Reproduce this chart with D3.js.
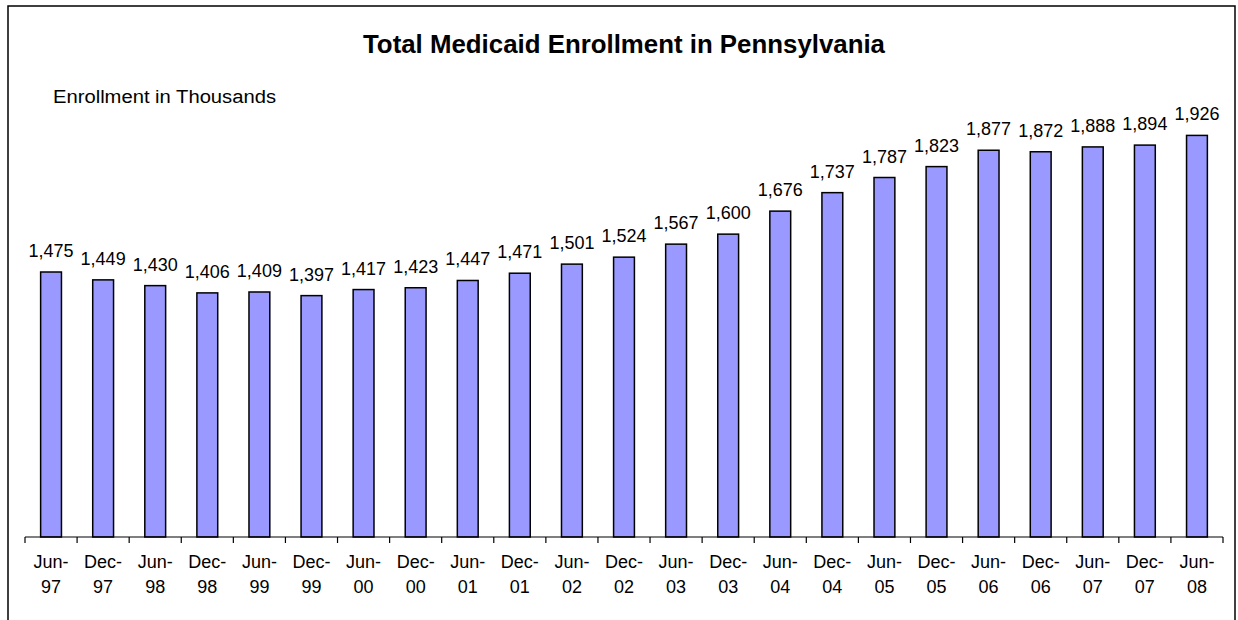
<!DOCTYPE html>
<html>
<head>
<meta charset="utf-8">
<script src="https://cdn.jsdelivr.net/npm/d3@7"></script>
<style>
  html, body { margin: 0; padding: 0; background: #fff; }
  svg { display: block; }
  text { font-family: "Liberation Sans", Arial, sans-serif; fill: #000; }
</style>
</head>
<body>
<svg id="chart" width="1238" height="620"></svg>
<script>
const categories = ["Jun-97","Dec-97","Jun-98","Dec-98","Jun-99","Dec-99","Jun-00","Dec-00","Jun-01","Dec-01","Jun-02","Dec-02","Jun-03","Dec-03","Jun-04","Dec-04","Jun-05","Dec-05","Jun-06","Dec-06","Jun-07","Dec-07","Jun-08"];
const enrollment = [1475,1449,1430,1406,1409,1397,1417,1423,1447,1471,1501,1524,1567,1600,1676,1737,1787,1823,1877,1872,1888,1894,1926];
const titleText = "Total Medicaid Enrollment in Pennsylvania";
const subtitleText = "Enrollment in Thousands";
const yDomain = [600, 2000];

const svg = d3.select("#chart");

// outer frame
svg.append("rect")
  .attr("x", 8).attr("y", 6)
  .attr("width", 1227).attr("height", 640)
  .attr("fill", "none").attr("stroke", "#000").attr("stroke-width", 1.5);

const x = d3.scaleBand()
  .domain(categories)
  .range([25, 1223])
  .paddingInner(0.6)
  .paddingOuter(0.3);

const y = d3.scaleLinear().domain(yDomain).range([537, 113]);

// title and subtitle
svg.append("text")
  .attr("x", 624).attr("y", 53)
  .attr("text-anchor", "middle")
  .attr("font-size", 26).attr("font-weight", "bold")
  .attr("textLength", 522).attr("lengthAdjust", "spacingAndGlyphs")
  .text(titleText);

svg.append("text")
  .attr("x", 53).attr("y", 103)
  .attr("font-size", 18)
  .attr("textLength", 223).attr("lengthAdjust", "spacingAndGlyphs")
  .text(subtitleText);

// bars
svg.append("g").selectAll("rect")
  .data(enrollment)
  .join("rect")
  .attr("x", (d, i) => x(categories[i]))
  .attr("y", d => y(d))
  .attr("width", x.bandwidth())
  .attr("height", d => y(yDomain[0]) - y(d))
  .attr("fill", "#9999FF")
  .attr("stroke", "#000")
  .attr("stroke-width", 1.5);

// value labels
const fmt = d3.format(",");
svg.append("g").selectAll("text")
  .data(enrollment)
  .join("text")
  .attr("x", (d, i) => x(categories[i]) + x.bandwidth() / 2)
  .attr("y", d => y(d) - 15)
  .attr("text-anchor", "middle")
  .attr("font-size", 18)
  .text(d => fmt(d));

// x axis
const axisY = y(yDomain[0]);
const step = x.step();
const boundaries = d3.range(categories.length + 1).map(i => 25 + i * step);
const axisG = svg.append("g");
axisG.append("line")
  .attr("x1", 25).attr("x2", 1223)
  .attr("y1", axisY).attr("y2", axisY)
  .attr("stroke", "#000").attr("stroke-width", 1.2);
axisG.selectAll("line.tick")
  .data(boundaries)
  .join("line")
  .attr("class", "tick")
  .attr("x1", d => d).attr("x2", d => d)
  .attr("y1", axisY).attr("y2", axisY + 6)
  .attr("stroke", "#000").attr("stroke-width", 1.2);

const catLabels = axisG.selectAll("text")
  .data(categories)
  .join("text")
  .attr("text-anchor", "middle")
  .attr("font-size", 18)
  .attr("x", d => x(d) + x.bandwidth() / 2);
catLabels.append("tspan")
  .attr("x", d => x(d) + x.bandwidth() / 2)
  .attr("y", 568)
  .text(d => d.split("-")[0] + "-");
catLabels.append("tspan")
  .attr("x", d => x(d) + x.bandwidth() / 2)
  .attr("y", 593)
  .text(d => d.split("-")[1]);
</script>
</body>
</html>
